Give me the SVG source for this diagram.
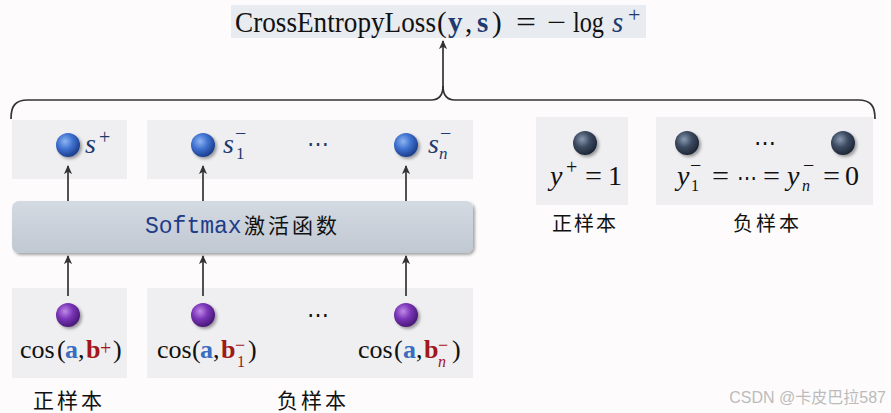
<svg xmlns="http://www.w3.org/2000/svg" width="891" height="413" viewBox="0 0 891 413">
<defs>
<style>
.m{font-family:"Liberation Serif","DejaVu Serif",serif;fill:#111}
.it{font-style:italic}
.b{font-weight:bold}
.dk{fill:#1f3a6e}
.bl{fill:#3a6cc0}
.rd{fill:#a01818}
.cn{font-family:"Noto Sans CJK SC",sans-serif;fill:#111}
.box{fill:#efeef0}
.con{stroke:#333;stroke-width:1.7;fill:none}
</style>
<radialGradient id="gBlue" cx="0.38" cy="0.35" r="0.65">
<stop offset="0" stop-color="#8fb4f2"/><stop offset="0.5" stop-color="#3f72d0"/><stop offset="1" stop-color="#1d3f8e"/>
</radialGradient>
<radialGradient id="gPur" cx="0.38" cy="0.35" r="0.65">
<stop offset="0" stop-color="#c08ae6"/><stop offset="0.5" stop-color="#7a35b8"/><stop offset="1" stop-color="#4a1a78"/>
</radialGradient>
<radialGradient id="gDk" cx="0.38" cy="0.35" r="0.65">
<stop offset="0" stop-color="#8a9ab2"/><stop offset="0.5" stop-color="#3e4c62"/><stop offset="1" stop-color="#1e2838"/>
</radialGradient>
<linearGradient id="gSoft" x1="0" y1="0" x2="0" y2="1">
<stop offset="0" stop-color="#d4dae2"/><stop offset="1" stop-color="#c0c8d2"/>
</linearGradient>
<filter id="sh" x="-50%" y="-50%" width="200%" height="200%">
<feDropShadow dx="2" dy="2" stdDeviation="1.5" flood-color="#000" flood-opacity="0.35"/>
</filter>
<marker id="ar" viewBox="0 0 10 10" refX="9" refY="5" markerWidth="9" markerHeight="9" markerUnits="userSpaceOnUse" orient="auto">
<path d="M0,0.5 L10,5 L0,9.5 L2.5,5 Z" fill="#333"/>
</marker>
</defs>
<rect width="891" height="413" fill="#fdfbfc"/>

<g id="loss">
<rect x="231" y="5" width="415" height="33" fill="#e8ebf0"/>
<text class="m" x="235" y="32" font-size="29" textLength="201" lengthAdjust="spacingAndGlyphs">CrossEntropyLoss</text>
<text class="m" x="437" y="32" font-size="29">(</text>
<text class="m b dk" x="448" y="32" font-size="29">y</text>
<text class="m" x="465" y="32" font-size="29">,</text>
<text class="m b dk" x="477" y="32" font-size="29">s</text>
<text class="m" x="492" y="32" font-size="29">)</text>
<text class="m" x="516" y="32" font-size="29" textLength="20" lengthAdjust="spacingAndGlyphs">=</text>
<text class="m" x="547" y="32" font-size="29" textLength="19" lengthAdjust="spacingAndGlyphs">−</text>
<text class="m" x="573" y="32" font-size="29" textLength="31" lengthAdjust="spacingAndGlyphs">log</text>
<text class="m it dk" x="612" y="32" font-size="29">s</text>
<text class="m dk" x="628" y="22" font-size="22">+</text>
</g>

<g id="scores-pos">
<rect class="box" x="12" y="120" width="115" height="59"/>
<circle cx="68" cy="145" r="12" fill="url(#gBlue)" filter="url(#sh)"/>
<text class="m it dk" x="85" y="153" font-size="28">s</text>
<text class="m dk" x="99" y="144" font-size="20">+</text>
</g>

<g id="scores-neg">
<rect class="box" x="147" y="120" width="326" height="59"/>
<circle cx="203" cy="145" r="12" fill="url(#gBlue)" filter="url(#sh)"/>
<text class="m it dk" x="223" y="153" font-size="28">s</text>
<text class="m dk" x="235" y="140" font-size="20">−</text>
<text class="m dk" x="236" y="159" font-size="17">1</text>
<text class="m dk" x="318" y="151" font-size="22" text-anchor="middle">⋯</text>
<circle cx="406" cy="145" r="12" fill="url(#gBlue)" filter="url(#sh)"/>
<text class="m it dk" x="428" y="153" font-size="28">s</text>
<text class="m dk" x="440" y="140" font-size="20">−</text>
<text class="m it dk" x="439" y="159" font-size="17">n</text>
</g>

<g id="softmax">
<rect x="12" y="201" width="461" height="52" rx="7" fill="url(#gSoft)" filter="url(#sh)"/>
<text x="145" y="233" font-family="'Liberation Mono','DejaVu Sans Mono',monospace" font-size="23" fill="#1f3c88">Softmax</text>
<text class="cn" x="244 268 292 316" y="233" font-size="21" fill="#1f3c88">激活函数</text>
</g>

<g id="cos-pos">
<rect class="box" x="12" y="288" width="115" height="90"/>
<circle cx="68" cy="315" r="12" fill="url(#gPur)" filter="url(#sh)"/>
<text class="m" x="20" y="358" font-size="26">cos</text>
<text class="m" x="57" y="358" font-size="26">(</text>
<text class="m b bl" x="65" y="358" font-size="26">a</text>
<text class="m" x="78" y="358" font-size="26">,</text>
<text class="m b rd" x="86" y="358" font-size="26">b</text>
<text class="m rd" x="100" y="355" font-size="20">+</text>
<text class="m" x="113" y="358" font-size="26">)</text>
</g>

<g id="cos-neg">
<rect class="box" x="147" y="288" width="326" height="90"/>
<circle cx="203" cy="315" r="12" fill="url(#gPur)" filter="url(#sh)"/>
<text class="m" x="157" y="358" font-size="26">cos</text>
<text class="m" x="192" y="358" font-size="26">(</text>
<text class="m b bl" x="200" y="358" font-size="26">a</text>
<text class="m" x="213" y="358" font-size="26">,</text>
<text class="m b rd" x="221" y="358" font-size="26">b</text>
<text class="m rd" x="235" y="351" font-size="18">−</text>
<text class="m rd" x="237" y="367" font-size="16">1</text>
<text class="m" x="248" y="358" font-size="26">)</text>
<text class="m" x="318" y="322" font-size="22" text-anchor="middle" fill="#4a2a8a">⋯</text>
<circle cx="406" cy="315" r="12" fill="url(#gPur)" filter="url(#sh)"/>
<text class="m" x="358" y="358" font-size="26">cos</text>
<text class="m" x="394" y="358" font-size="26">(</text>
<text class="m b bl" x="403" y="358" font-size="26">a</text>
<text class="m" x="416" y="358" font-size="26">,</text>
<text class="m b rd" x="424" y="358" font-size="26">b</text>
<text class="m rd" x="438" y="351" font-size="18">−</text>
<text class="m it rd" x="438" y="367" font-size="16">n</text>
<text class="m" x="452" y="358" font-size="26">)</text>
</g>

<g id="label-pos-left"><text class="cn" x="33 57 81" y="408" font-size="21">正样本</text></g>
<g id="label-neg-left"><text class="cn" x="277 301 325" y="408" font-size="21">负样本</text></g>

<g id="labels-pos">
<rect class="box" x="536" y="117" width="92" height="88"/>
<circle cx="585" cy="143" r="12" fill="url(#gDk)" filter="url(#sh)"/>
<text class="m it" x="550" y="185" font-size="28">y</text>
<text class="m" x="566" y="174" font-size="20">+</text>
<text class="m" x="585" y="185" font-size="28" textLength="17" lengthAdjust="spacingAndGlyphs">=</text>
<text class="m" x="608" y="185" font-size="28">1</text>
</g>

<g id="labels-neg">
<rect class="box" x="656" y="117" width="217" height="88"/>
<circle cx="687" cy="143" r="12" fill="url(#gDk)" filter="url(#sh)"/>
<text class="m" x="765" y="150" font-size="22" text-anchor="middle" fill="#2e3a4e">⋯</text>
<circle cx="843" cy="143" r="12" fill="url(#gDk)" filter="url(#sh)"/>
<text class="m it" x="677" y="185" font-size="28">y</text>
<text class="m" x="690" y="172" font-size="20">−</text>
<text class="m" x="691" y="191" font-size="16">1</text>
<text class="m" x="712" y="185" font-size="28" textLength="17" lengthAdjust="spacingAndGlyphs">=</text>
<text class="m" x="737" y="185" font-size="22" textLength="20" lengthAdjust="spacingAndGlyphs">⋯</text>
<text class="m" x="763" y="185" font-size="28" textLength="17" lengthAdjust="spacingAndGlyphs">=</text>
<text class="m it" x="787" y="185" font-size="28">y</text>
<text class="m" x="803" y="172" font-size="20">−</text>
<text class="m it" x="802" y="191" font-size="16">n</text>
<text class="m" x="823" y="185" font-size="28" textLength="17" lengthAdjust="spacingAndGlyphs">=</text>
<text class="m" x="845" y="185" font-size="28">0</text>
</g>

<g id="label-pos-right"><text class="cn" x="552 574 596" y="231" font-size="20">正样本</text></g>
<g id="label-neg-right"><text class="cn" x="733 756 779" y="231" font-size="20">负样本</text></g>

<g id="connectors">
<path class="con" d="M11,119 C11,106 15,100 28,100 L431,100 C439,100 443,96 443,86"/>
<path class="con" d="M875,119 C875,106 871,100 858,100 L455,100 C447,100 443,96 443,86"/>
<line class="con" x1="443" y1="88" x2="443" y2="41" marker-end="url(#ar)"/>
<line class="con" x1="68" y1="201" x2="68" y2="166" marker-end="url(#ar)"/>
<line class="con" x1="203" y1="201" x2="203" y2="166" marker-end="url(#ar)"/>
<line class="con" x1="406" y1="201" x2="406" y2="166" marker-end="url(#ar)"/>
<line class="con" x1="68" y1="296" x2="68" y2="256" marker-end="url(#ar)"/>
<line class="con" x1="203" y1="296" x2="203" y2="256" marker-end="url(#ar)"/>
<line class="con" x1="406" y1="296" x2="406" y2="256" marker-end="url(#ar)"/>
</g>

<text x="886" y="403" font-family="'Liberation Sans','Noto Sans CJK SC',sans-serif" font-size="16" fill="#bbbbbb" text-anchor="end">CSDN @卡皮巴拉587</text>
</svg>
